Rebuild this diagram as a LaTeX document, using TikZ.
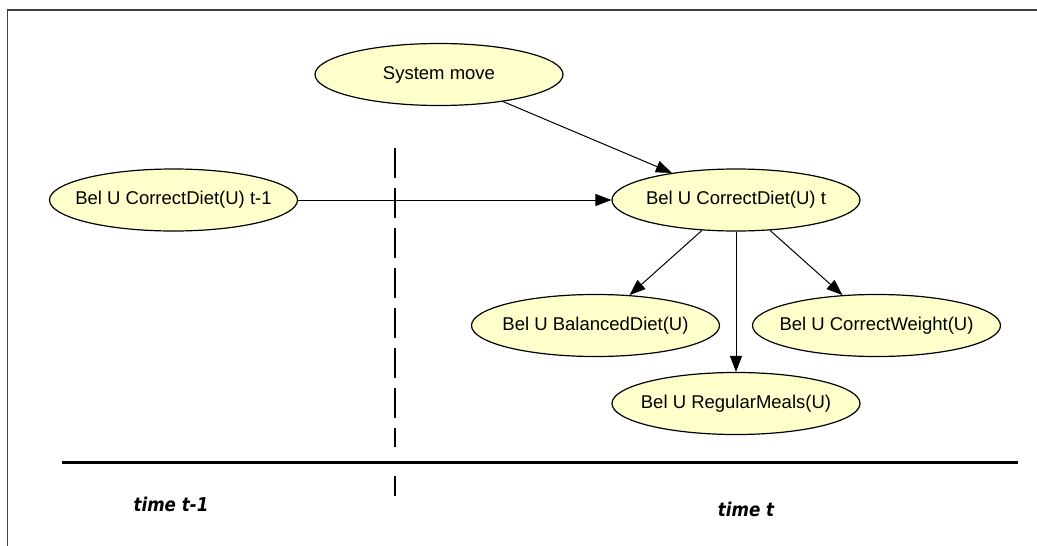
\documentclass[tikz,border=0pt]{standalone}
\usepackage{fontspec}
\setmainfont{Liberation Sans}
\newfontfamily\timefont{DejaVu Sans}
\usetikzlibrary{shapes.geometric,arrows.meta}
\definecolor{nodefill}{RGB}{255,255,204}
\definecolor{framegray}{RGB}{64,64,64}
\newcommand\beltext[1]{\makebox[0pt]{#1}}
\begin{document}
\begin{tikzpicture}[x=1pt,y=-1pt,
  belief/.style={ellipse, draw=black, line width=1.2pt, fill=nodefill,
    minimum width=248pt, minimum height=62pt, inner sep=0pt,
    font=\fontsize{18.5}{20}\selectfont},
  link/.style={-{Triangle[length=16pt,width=12pt]}, line width=1pt},
  framestyle/.style={draw=framegray, line width=1.5pt},
  divider/.style={draw=black, line width=1.3pt},
  timelabel/.style={font=\timefont\bfseries\itshape\fontsize{19}{21}\selectfont}]
\useasboundingbox (0,0) rectangle (1037,546);
% frame (top and left only)
\coordinate (f1) at (7.5,546);
\coordinate (f2) at (7.5,10);
\coordinate (f3) at (1037,10);
\draw[framestyle] (f1) -- (f2) -- (f3);
% time axis
\coordinate (hl) at (62,462);
\coordinate (hr) at (1018,462);
\draw[line width=3pt] (hl) -- (hr);
% vertical time divider
\coordinate (dtop) at (395,148);
\coordinate (dmid) at (395,447);
\coordinate (dlow) at (395,476);
\coordinate (dbot) at (395,496);
\draw[divider, dash pattern=on 30pt off 10pt] (dtop) -- (dmid);
\draw[divider] (dlow) -- (dbot);
% nodes
\node[belief] (sys) at (439,74.5) {\beltext{System move}};
\node[belief] (prev) at (173.5,200) {\beltext{Bel U CorrectDiet(U) t-1}};
\node[belief] (cur) at (736,200) {\beltext{Bel U CorrectDiet(U) t}};
\node[belief] (bal) at (595.5,325.5) {\beltext{Bel U BalancedDiet(U)}};
\node[belief] (wgt) at (876.5,325.5) {\beltext{Bel U CorrectWeight(U)}};
\node[belief] (reg) at (736,403.5) {\beltext{Bel U RegularMeals(U)}};
% connectors
\draw[link] (sys) -- (cur);
\draw[link] (prev) -- (cur);
\draw[link] (cur) -- (bal);
\draw[link] (cur) -- (wgt);
\draw[link] (cur) -- (reg);
% time labels
\node[timelabel, inner sep=0pt] (tprev) at (171,504) {\scalebox{0.88}[1]{time t-1}};
\node[timelabel, inner sep=0pt] (tcur) at (746,509) {\scalebox{0.88}[1]{time t}};
\end{tikzpicture}
\end{document}
